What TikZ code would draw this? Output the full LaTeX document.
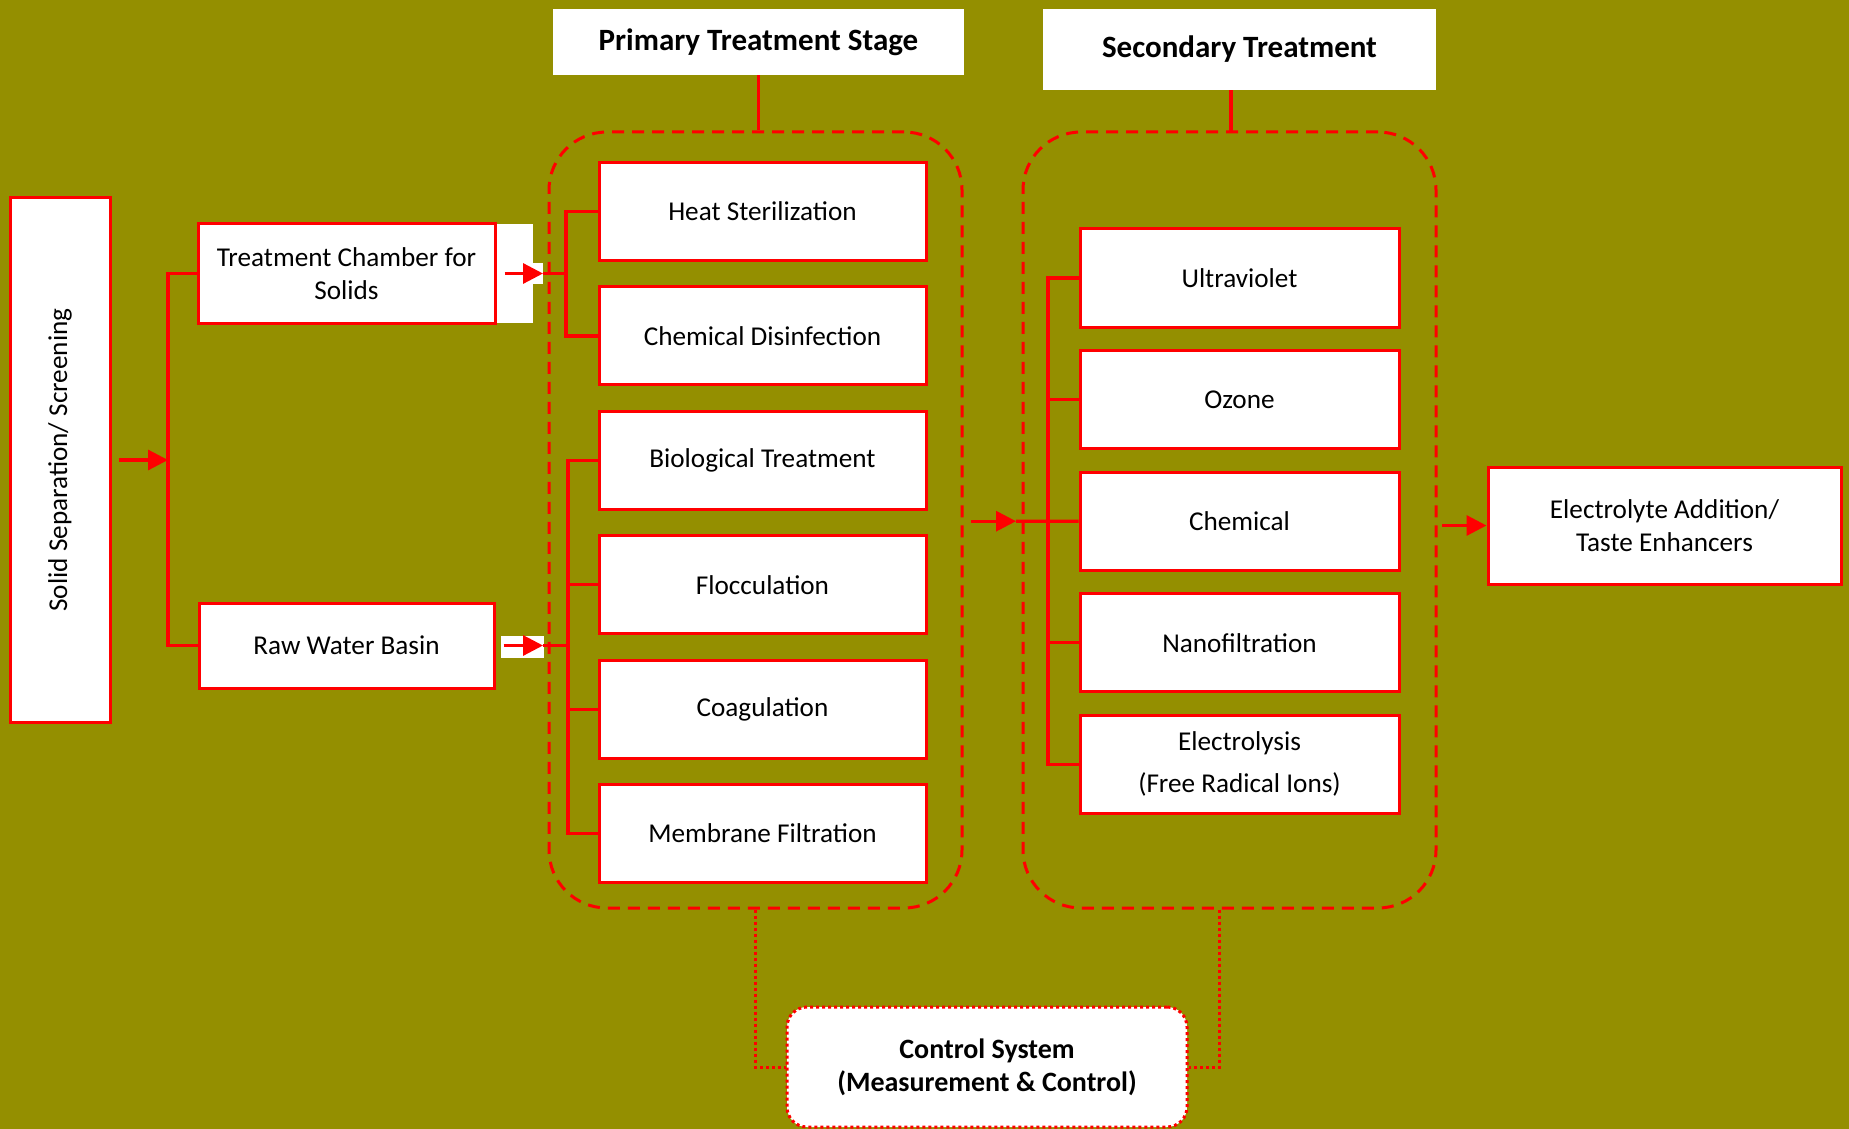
\documentclass[tikz,border=0pt]{standalone}
\usepackage{fontspec}
\setmainfont{Carlito}
\usetikzlibrary{arrows.meta}

\definecolor{olivebg}{RGB}{148,143,0}
\definecolor{linered}{RGB}{255,0,0}

\tikzset{
  stagebox/.style={draw=linered, line width=1.5pt, fill=white, align=center, inner sep=0pt,
    font=\fontsize{13.6}{16.5}\selectfont},
  procbox/.style={stagebox, minimum width=163.5pt, minimum height=49pt},
  secbox/.style={stagebox, minimum width=159.5pt, minimum height=49pt},
  headbox/.style={fill=white, inner sep=0pt, font=\fontsize{15.5}{18}\selectfont\bfseries},
  group/.style={draw=linered, line width=1.5pt, dash pattern=on 6pt off 4pt, rounded corners=29pt,
    minimum width=206.5pt, minimum height=388pt},
  link/.style={draw=linered, line width=1.6pt},
  flow/.style={link, -{Triangle[length=10pt,width=10pt]}},
  ctrlline/.style={draw=linered, line width=1.5pt, dash pattern=on 1.5pt off 1.5pt},
}

\begin{document}
\begin{tikzpicture}[x=0.5pt, y=-0.5pt]
  \fill[olivebg] (0,0) rectangle (1849,1129);
  \useasboundingbox (0,0) rectangle (1849,1129);

  % stage frames and titles
  \node[group] (prim) at (755.5,520) {};
  \node[group] (sec) at (1229.5,520) {};
  \node[headbox, minimum width=205.5pt, minimum height=33pt] (phead) at (758.5,42) {Primary Treatment Stage};
  \node[headbox, minimum width=196.5pt, minimum height=40.5pt] (shead) at (1239.5,49.5) {Secondary Treatment};

  % inlet side
  \node[stagebox, rotate=90, minimum width=262pt, minimum height=50pt] (solid) at (60,460) {Solid Separation/ Screening};
  \fill[white] (207,224) rectangle (533,323);
  \fill[white] (523,263) rectangle (543,284);
  \node[stagebox, minimum width=148.5pt, minimum height=49.5pt] (chamber) at (346.5,273.5) {Treatment Chamber for\\Solids};
  \fill[white] (501,636) rectangle (544,658);
  \node[stagebox, minimum width=147.5pt, minimum height=42.5pt] (raw) at (346.5,645.5) {Raw Water Basin};

  % primary treatment
  \foreach \name/\txt [count=\i from 0] in {heat/Heat Sterilization, disinf/Chemical Disinfection,
      bio/Biological Treatment, floc/Flocculation, coag/Coagulation, membrane/Membrane Filtration}
    \node[procbox] (\name) at (762.5,211.5+124.4*\i) {\txt};

  % secondary treatment
  \foreach \name/\txt [count=\i from 0] in {uv/Ultraviolet, ozone/Ozone, chemical/Chemical,
      nano/Nanofiltration, elysis/{Electrolysis\\[4.5pt](Free Radical Ions)}}
    \node[secbox] (\name) at (1239.5,278+121.6*\i) {\txt};

  \node[stagebox, minimum width=176.5pt, minimum height=58.5pt] (taste) at (1664.5,525.5) {Electrolyte Addition/\\Taste Enhancers};

  \node[fill=white, draw=linered, line width=1.5pt, dash pattern=on 1.5pt off 1.5pt, rounded corners=10pt,
    minimum width=200pt, minimum height=60pt, align=center,
    font=\fontsize{14}{16.5}\selectfont\bfseries] (ctrl) at (987,1067) {Control System\\(Measurement \& Control)};

  % connectors
  \coordinate (bus1) at (168,460);
  \draw[flow] ([xshift=3.5pt]solid.south) -- (bus1);
  \draw[link] (chamber.west) -| (bus1) |- (raw.west);

  \coordinate (in1) at (543,273.5);
  \coordinate (bus2) at (566,273.5);
  \draw[flow] ([xshift=4pt]chamber.east) -- (in1);
  \draw[link] (in1) -- (bus2);
  \draw[link] (heat.west) -| (bus2) |- (disinf.west);

  \coordinate (in2) at (543,645.5);
  \coordinate (bus3) at (568,645.5);
  \draw[flow] ([xshift=4pt]raw.east) -- (in2);
  \draw[link] (in2) -- (bus3);
  \draw[link] (bio.west) -| (bus3) |- (membrane.west);
  \foreach \n in {floc,coag}
    \draw[link] (\n.west) -- (\n.west -| bus3);

  \coordinate (out3) at (971,521.2);
  \coordinate (in3) at (1016,521.2);
  \coordinate (bus4) at (1048,521.2);
  \draw[flow] (out3) -- (in3);
  \draw[link] (in3) -- (chemical.west);
  \draw[link] (uv.west) -| (bus4) |- (elysis.west);
  \foreach \n in {ozone,nano}
    \draw[link] (\n.west) -- (\n.west -| bus4);

  \coordinate (out4) at (1442,525.5);
  \draw[flow] (out4) -- (taste.west);

  \draw[link] (phead.south) -- (phead.south |- prim.north);
  \draw[link] ([xshift=-4.25pt]shead.south) -- ++(0,42);

  \draw[ctrlline] (prim.south) |- (ctrl.west);
  \draw[ctrlline] ([xshift=-5pt]sec.south) |- (ctrl.east);
\end{tikzpicture}
\end{document}
